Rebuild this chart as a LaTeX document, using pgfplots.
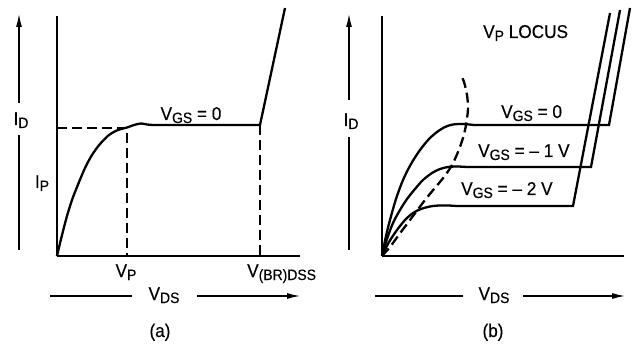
\documentclass[border=0pt]{standalone}
\usepackage{fontspec}
\setmainfont{Liberation Sans}[FakeStretch=0.93, FakeBold=0.3]
\usepackage{pgfplots}
\pgfplotsset{compat=1.18}
\usetikzlibrary{arrows.meta}

% subscript as in the drawing: large, dropped below the baseline
\newcommand\sub[1]{\raisebox{-3pt}{\fontsize{15}{17}\selectfont #1}}

\pgfplotsset{
  jfet/.style={scale only axis, width=243pt, height=240pt,
    xmin=0, xmax=243, ymin=0, ymax=240,
    axis lines=left, axis line style={line width=2.8pt,-},
    xtick=\empty, ytick=\empty, clip=false},
  curve/.style={black, line width=2.3pt, no markers},
  dsh/.style={curve, dash pattern=on 10pt off 5pt},
}

\begin{document}
\begin{tikzpicture}[x=1pt,y=1pt,font=\fontsize{18.5}{21}\selectfont,
  arr/.style={line width=1.3pt,-{Latex[length=13pt,width=6pt]}}]
\useasboundingbox (0,0) rectangle (632,343);

% ---------------- (a) ----------------
\begin{axis}[jfet, at={(57pt,87pt)}, anchor=south west]
\addplot[curve, smooth] coordinates {(0,0)(5,21)(10,40)(15,56)(20,69)(28,88)(35,101)(43,112)(52,121)(61,126)(70,128.5)(77,131)(84,132.5)(90,131.5)(96,131)};
\addplot[curve] coordinates {(96,131)(203,131)(228,248)};
\addplot[dsh] coordinates {(0,128)(70,128)(70,0)};
\addplot[dsh] coordinates {(203,131)(203,0)};
\end{axis}

\draw[line width=1.3pt] (19,93) -- (19,208);
\draw[arr] (19,240) -- (19,329);
\draw[line width=1.3pt] (50,47) -- (132,47);
\draw[arr] (197,47) -- (300,47);

\node[anchor=base] at (21,218) {I\sub{D}};
\node[anchor=base] at (42,155) {I\sub{P}};
\node[anchor=base] at (191,223) {V\sub{GS} = 0};
\node[anchor=base] at (126,66) {V\sub{P}};
\node[anchor=base west, inner sep=0pt] at (247,66) {V\sub{(BR)DSS}};
\node[anchor=base] at (164,43) {V\sub{DS}};
\node[anchor=base] at (160,6) {(a)};

% ---------------- (b) ----------------
\begin{axis}[jfet, at={(382pt,87pt)}, anchor=south west, width=242pt, xmax=242]
\addplot[curve, smooth] coordinates {(0,0)(4,20)(8,36)(14,57)(21,76)(29,92)(38,106)(47,117)(55,124)(63,129)(71,131.5)(81,132)(92,131)};
\addplot[curve] coordinates {(92,131)(227,131)(248,248)};
\addplot[curve, smooth] coordinates {(0,0)(5,17)(11,33)(18,46)(25,57)(33,67)(41,76)(50,83)(58,87)(66,89)(75,89.5)(85,89)};
\addplot[curve] coordinates {(85,89)(209,89)(238,246)};
\addplot[curve, smooth] coordinates {(0,0)(7,14)(15,26)(23,36)(31,43)(39,47)(48,49.5)(57,50.5)(66,50.5)(75,50)};
\addplot[curve] coordinates {(75,50)(191,50)(228,243)};
\addplot[dsh, smooth] coordinates {(0,0)(8,9)(16,20)(25,32)(34,44)(43,56)(52,67)(62,79)(70,91)(76,104)(81,118)(84,131)(86,147)(85,161)(82,174)(79,181)};
\end{axis}

\draw[line width=1.3pt] (349,93) -- (349,206);
\draw[arr] (349,243) -- (349,329);
\draw[line width=1.3pt] (375,47) -- (463,47);
\draw[arr] (523,47) -- (625,47);

\node[anchor=base] at (351,217) {I\sub{D}};
\node[anchor=base west, inner sep=0pt] at (483,305) {V\sub{P} LOCUS};
\node[anchor=base west, inner sep=0pt] at (501,225) {V\sub{GS} = 0};
\node[anchor=base west, inner sep=0pt] at (478,186) {V\sub{GS} = -- 1 V};
\node[anchor=base west, inner sep=0pt] at (461,148) {V\sub{GS} = -- 2 V};
\node[anchor=base] at (494,43) {V\sub{DS}};
\node[anchor=base] at (493,6) {(b)};
\end{tikzpicture}
\end{document}
